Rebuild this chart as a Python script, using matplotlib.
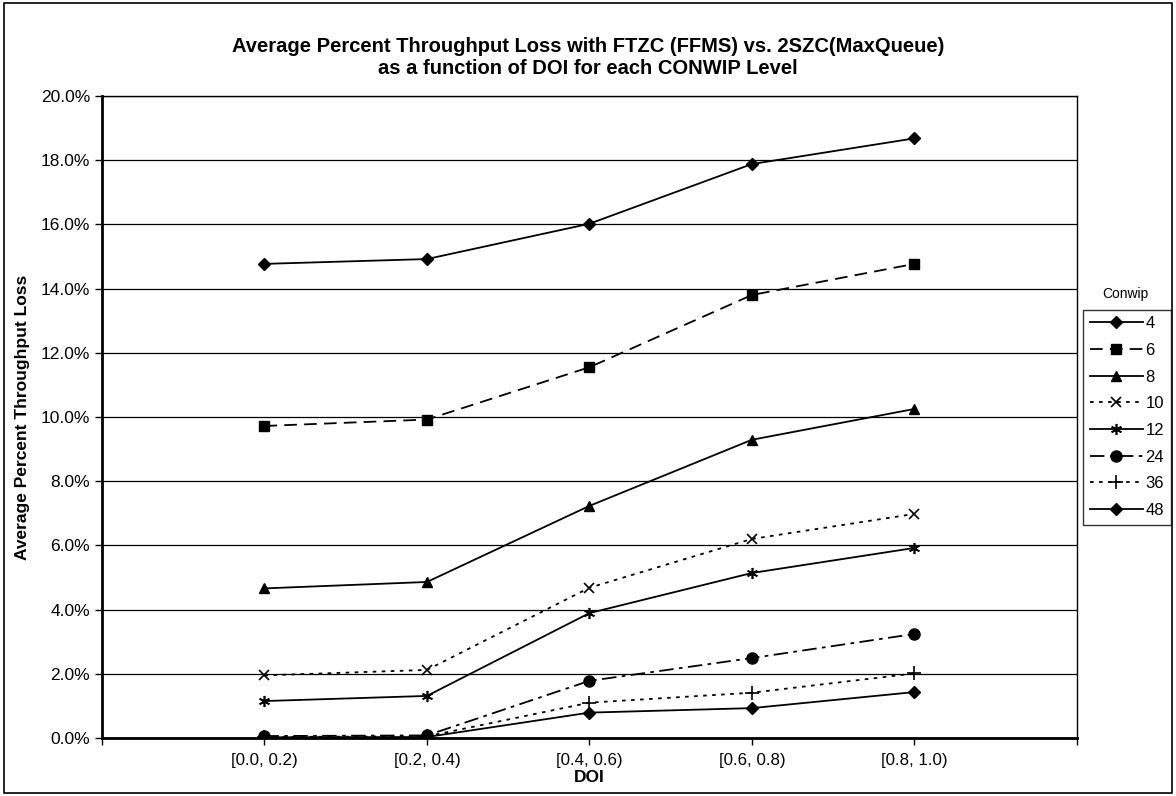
import matplotlib
matplotlib.use("Agg")
import matplotlib.pyplot as plt
from matplotlib.patches import Rectangle

plt.rcParams['font.family'] = ['Liberation Sans', 'DejaVu Sans']

# Datos (porcentaje de perdida)
categorias = ['[0.0, 0.2)', '[0.2, 0.4)', '[0.4, 0.6)', '[0.6, 0.8)', '[0.8, 1.0)']
niveles = ['4', '6', '8', '10', '12', '24', '36', '48']
perdida = {
    '4':  [14.77, 14.92, 16.02, 17.88, 18.68],
    '6':  [9.72, 9.92, 11.55, 13.80, 14.77],
    '8':  [4.66, 4.86, 7.23, 9.29, 10.25],
    '10': [1.95, 2.12, 4.68, 6.20, 6.98],
    '12': [1.15, 1.31, 3.89, 5.14, 5.92],
    '24': [0.06, 0.08, 1.78, 2.49, 3.24],
    '36': [0.03, 0.05, 1.10, 1.41, 2.01],
    '48': [0.02, 0.03, 0.79, 0.93, 1.43],
}

estilos = {
    '4':  dict(ls='-', marker='D', ms=6),
    '6':  dict(ls=(0, (7, 4)), marker='s', ms=7),
    '8':  dict(ls='-', marker='^', ms=7),
    '10': dict(ls=(0, (2, 3)), marker='x', ms=7, mew=1.2),
    '12': dict(ls='-', marker=(6, 2, 0), ms=8, mew=1.2),
    '24': dict(ls=(0, (8, 3, 2, 3)), marker='o', ms=8),
    '36': dict(ls=(0, (2, 3)), marker='+', ms=10, mew=1.2),
    '48': dict(ls='-', marker='D', ms=6),
}

fig = plt.figure(figsize=(11.76, 7.96), dpi=100)
fig.patches.append(Rectangle((0.003, 0.004), 0.994, 0.992, transform=fig.transFigure,
                             fill=False, edgecolor='black', linewidth=1.2))
ax = fig.add_axes([0.0867, 0.0729, 0.829, 0.8065])

x = list(range(1, len(categorias) + 1))
for n in niveles:
    ax.plot(x, perdida[n], color='black', linewidth=1.3, label=n, **estilos[n])

ax.set_xlim(0, 6)
ax.set_ylim(0, 20)
ax.set_xticks(range(0, 7))
ax.set_xticklabels([''] + categorias + [''], fontsize=12.2)
ax.set_yticks(range(0, 21, 2))
ax.set_yticklabels([f'{v:.1f}%' for v in range(0, 21, 2)], fontsize=12.5)
ax.tick_params(direction='out', length=5, width=1, colors='black')
ax.tick_params(axis='x', pad=6)
ax.yaxis.grid(True, color='black', linewidth=0.9)
ax.set_axisbelow(True)
for s in ['left', 'bottom']:
    ax.spines[s].set_linewidth(2)
for s in ['top', 'right']:
    ax.spines[s].set_linewidth(1)

ax.set_xlabel('DOI', fontsize=12.5, fontweight='bold', labelpad=1)
ax.set_ylabel('Average Percent Throughput Loss', fontsize=12.5, fontweight='bold', labelpad=8)
fig.text(0.5, 0.928, 'Average Percent Throughput Loss with FTZC (FFMS) vs. 2SZC(MaxQueue)\n'
         'as a function of DOI for each CONWIP Level',
         ha='center', va='center', fontsize=14.5, fontweight='bold', linespacing=1.2)

leg = fig.legend(loc='upper left', bbox_to_anchor=(0.921, 0.611), fontsize=12,
                 frameon=True, fancybox=False, edgecolor='black', handlelength=3.2,
                 handletextpad=0.15, borderpad=0.4, labelspacing=0.7, borderaxespad=0)
leg.get_frame().set_linewidth(1)
fig.text(0.957, 0.631, 'Conwip', ha='center', va='center', fontsize=10)

fig.savefig('out.png', dpi=100)
